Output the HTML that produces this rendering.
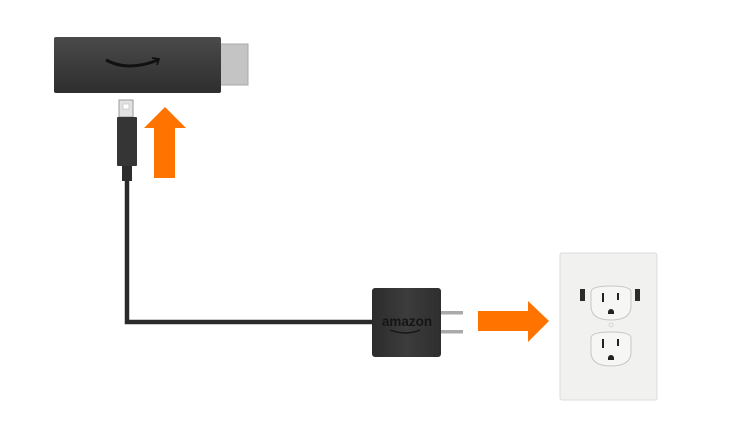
<!DOCTYPE html>
<html><head><meta charset="utf-8"><style>
html,body{margin:0;padding:0;background:#fff;}
body{width:750px;height:422px;overflow:hidden;position:relative;font-family:"Liberation Sans",sans-serif;}
</style></head><body>
<svg width="750" height="422" viewBox="0 0 750 422" xmlns="http://www.w3.org/2000/svg">
<defs>
<linearGradient id="stick" x1="0" y1="0" x2="0" y2="1">
<stop offset="0" stop-color="#4a4a4a"/><stop offset="0.5" stop-color="#3c3c3c"/><stop offset="1" stop-color="#2e2e2e"/>
</linearGradient>
<linearGradient id="chg" x1="0" y1="0" x2="1" y2="0">
<stop offset="0" stop-color="#2c2c2c"/><stop offset="0.5" stop-color="#3c3c3c"/><stop offset="1" stop-color="#2e2e2e"/>
</linearGradient>
</defs>
<rect x="219" y="44" width="29" height="41" fill="#c4c4c4" stroke="#aaa" stroke-width="1"/>
<rect x="54" y="37" width="167" height="56" rx="2" fill="url(#stick)"/>
<path d="M106 60 Q128 72 158 60" stroke="#111" stroke-width="3" fill="none"/>
<path d="M152 58 L159 59 L157 65" stroke="#111" stroke-width="1.8" fill="none"/>
<rect x="119" y="100" width="14" height="17" fill="#e2e2e2" stroke="#999" stroke-width="1"/>
<rect x="123" y="104" width="6" height="5" fill="#fff" stroke="#bbb" stroke-width="0.6"/>
<rect x="117" y="117" width="20" height="49" rx="1" fill="#353535"/>
<rect x="122" y="166" width="10" height="15" fill="#2c2c2c"/>
<path d="M127 181 L127 322 L373 322" stroke="#2a2a2a" stroke-width="4.5" fill="none" stroke-linejoin="miter"/>
<polygon points="165,107 186,128 175,128 175,178 154,178 154,128 144,128" fill="#ff7300"/>
<rect x="441" y="311" width="22" height="3.5" fill="#aaa"/>
<rect x="441" y="330" width="22" height="3.5" fill="#aaa"/>
<rect x="372" y="288" width="69" height="69" rx="3" fill="url(#chg)"/>
<text x="407" y="326" font-size="13.5" font-weight="bold" fill="#151515" text-anchor="middle">amazon</text>
<path d="M390 330 Q406 336 420 330" stroke="#151515" stroke-width="1.4" fill="none"/>
<polygon points="478,311 528,311 528,301 549,321 528,342 528,331 478,331" fill="#ff7300"/>
<rect x="560" y="253" width="97" height="147" rx="2" fill="#f1f1ef" stroke="#dcdcdc" stroke-width="1"/>
<rect x="580" y="289" width="5" height="12" fill="#2b2b2b"/>
<rect x="635" y="289" width="5" height="12" fill="#2b2b2b"/>
<path d="M591 292 Q591 286 611 286 Q631 286 631 292 L631 306 Q631 320 611 320 Q591 320 591 306 Z" fill="#f6f6f4" stroke="#c8c8c6" stroke-width="1"/>
<path d="M591 338 Q591 332 611 332 Q631 332 631 338 L631 352 Q631 366 611 366 Q591 366 591 352 Z" fill="#f6f6f4" stroke="#c8c8c6" stroke-width="1"/>
<rect x="602" y="293" width="2" height="9" fill="#222"/>
<rect x="617" y="293" width="2" height="7" fill="#222"/>
<path d="M608 312 a3 3 0 0 1 6 0 v2 h-6z" fill="#222"/>
<rect x="602" y="339" width="2" height="9" fill="#222"/>
<rect x="617" y="339" width="2" height="7" fill="#222"/>
<path d="M608 358 a3 3 0 0 1 6 0 v2 h-6z" fill="#222"/>
<circle cx="611" cy="325" r="2" fill="none" stroke="#ccc" stroke-width="0.8"/>
</svg>
</body></html>
